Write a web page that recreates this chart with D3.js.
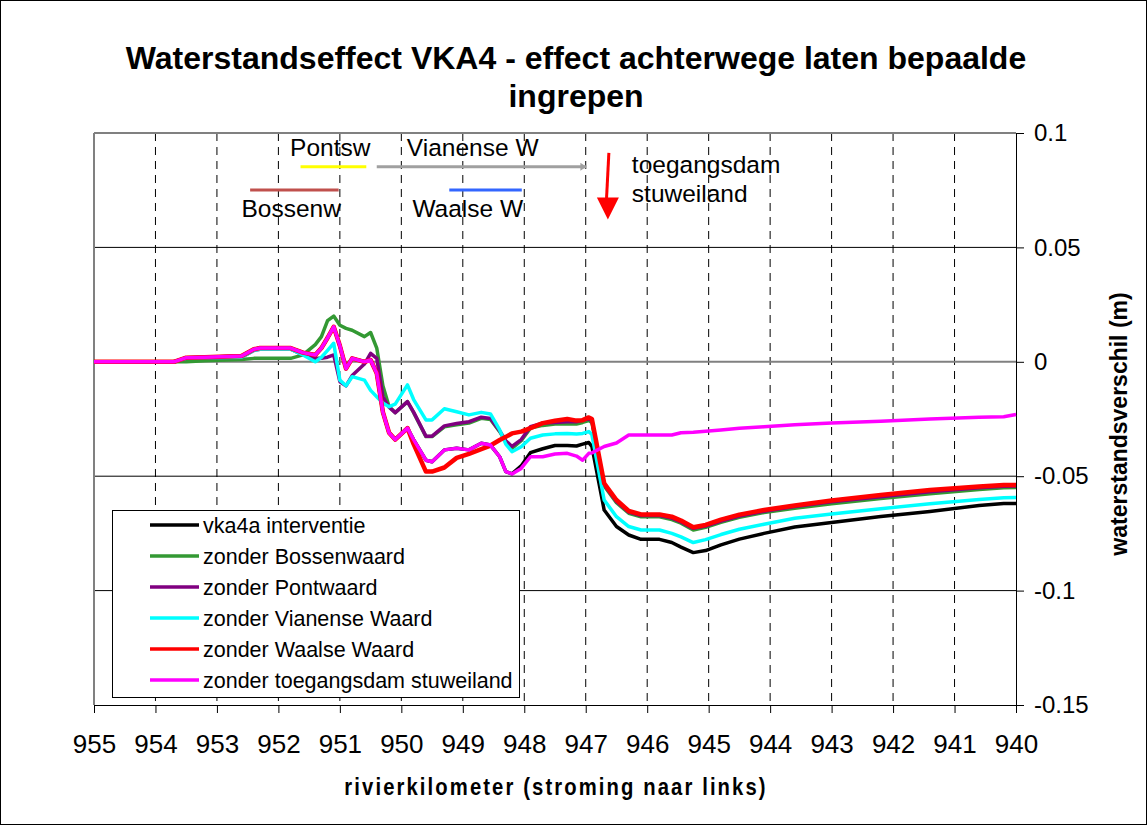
<!DOCTYPE html>
<html>
<head>
<meta charset="utf-8">
<script src="https://cdn.jsdelivr.net/npm/d3@7"></script>
<style>
  body { margin: 0; background: white; }
  svg { font-family: "Liberation Sans", Arial, sans-serif; }
</style>
</head>
<body>
<div id="chart"></div>
<script>
var km = [955, 953.7, 953.5, 953.2, 952.6, 952.4, 952.3, 951.8, 951.6, 951.4,
          951.3, 951.2, 951.1, 951.0, 950.9, 950.8, 950.6, 950.5, 950.4, 950.3,
          950.2, 950.1, 949.9, 949.8, 949.6, 949.5, 949.3, 949.1, 948.9, 948.7,
          948.55, 948.4, 948.3, 948.2, 948.05, 947.9, 947.7, 947.5, 947.3, 947.15,
          947.05, 946.95, 946.9, 946.7, 946.5, 946.3, 946.1, 945.8, 945.6, 945.45,
          945.25, 945.05, 944.8, 944.5, 944.1, 943.6, 943, 942.2, 941.4, 940.6,
          940.2, 940]

// water level difference (m), one list per run
var vka4a = [0, 0, 0.0018, 0.002, 0.0025, 0.0055, 0.006, 0.006, 0.004, 0.003,
             0.006, 0.0105, 0.0153, 0.007, -0.003, 0.0015, 0, 0.0008, -0.005, -0.022,
             -0.031, -0.034, -0.029, -0.034, -0.043, -0.0437, -0.0385, -0.0378, -0.0385, -0.0356,
             -0.0364, -0.0415, -0.048, -0.049, -0.0455, -0.0397, -0.038, -0.0366, -0.0366, -0.0368,
             -0.036, -0.0353, -0.037, -0.0648, -0.072, -0.0757, -0.0776, -0.0776, -0.079, -0.081,
             -0.0834, -0.0825, -0.080, -0.0775, -0.075, -0.0722, -0.0702, -0.0676, -0.0654, -0.0628,
             -0.0619, -0.0619]

var zonderBossenwaard = [0, 0, 0, 0.0005, 0.001, 0.0015, 0.0015, 0.0015, 0.003, 0.0075,
             0.011, 0.018, 0.02, 0.016, 0.0146, 0.0138, 0.011, 0.0128, 0.006, -0.0105,
             -0.0195, -0.0222, -0.0174, -0.0222, -0.0327, -0.0327, -0.0284, -0.0275, -0.0268, -0.0247,
             -0.0252, -0.0305, -0.035, -0.0378, -0.0345, -0.029, -0.0278, -0.0272, -0.0271, -0.0272,
             -0.0265, -0.0257, -0.0266, -0.0543, -0.0616, -0.0662, -0.0677, -0.0677, -0.069, -0.0705,
             -0.0735, -0.0723, -0.0702, -0.068, -0.0659, -0.064, -0.062, -0.0597, -0.0577, -0.0558,
             -0.055, -0.0549]

var zonderPontwaard = [0, 0, 0.0015, 0.0018, 0.002, 0.005, 0.0055, 0.0055, 0.003, 0.0015,
             0.0015, 0.002, 0.003, -0.0087, -0.0105, -0.006, -0.001, 0.0037, 0.0015, -0.0153,
             -0.0198, -0.0222, -0.0174, -0.022, -0.0325, -0.0325, -0.028, -0.027, -0.0262, -0.0242,
             -0.0248, -0.0302, -0.0345, -0.037, -0.034, -0.0284, -0.0268, -0.0265, -0.0262, -0.0262,
             -0.0255, -0.025, -0.0257, -0.0537, -0.061, -0.0657, -0.0672, -0.0672, -0.0683, -0.07,
             -0.0728, -0.0718, -0.0696, -0.0674, -0.0653, -0.0633, -0.0612, -0.059, -0.0568, -0.0551,
             -0.0544, -0.0543]

var zonderVianenseWaard = [0, 0, 0.0015, 0.0018, 0.002, 0.005, 0.0055, 0.0055, 0.003, 0,
             0.002, 0.005, 0.0081, -0.008, -0.0105, -0.0065, -0.008, -0.0125, -0.0153, -0.018,
             -0.0196, -0.0185, -0.0101, -0.0165, -0.0254, -0.0254, -0.0205, -0.0218, -0.0232, -0.0221,
             -0.0228, -0.0298, -0.036, -0.0393, -0.0371, -0.0334, -0.032, -0.0315, -0.0313, -0.0316,
             -0.0313, -0.0305, -0.0318, -0.0604, -0.0677, -0.072, -0.0735, -0.0735, -0.075, -0.0765,
             -0.079, -0.0777, -0.0755, -0.0732, -0.071, -0.0684, -0.0665, -0.0642, -0.062, -0.0602,
             -0.0594, -0.0593]

var zonderWaalseWaard = [0, 0, 0.0018, 0.002, 0.0025, 0.0055, 0.006, 0.006, 0.004, 0.003,
             0.006, 0.0105, 0.0153, 0.007, -0.003, 0.0015, 0, 0.0008, -0.005, -0.022,
             -0.031, -0.034, -0.029, -0.036, -0.048, -0.048, -0.0462, -0.042, -0.0402, -0.0382,
             -0.0366, -0.0342, -0.0328, -0.0313, -0.0305, -0.029, -0.0268, -0.0258, -0.025, -0.0257,
             -0.0255, -0.0243, -0.025, -0.0531, -0.0604, -0.0652, -0.0667, -0.0667, -0.0677, -0.0694,
             -0.0723, -0.0713, -0.069, -0.0668, -0.0648, -0.0628, -0.0606, -0.0582, -0.056, -0.0545,
             -0.0538, -0.0538]

var zonderToegangsdam = [0, 0, 0.0018, 0.002, 0.0025, 0.0055, 0.006, 0.006, 0.004, 0.003,
             0.006, 0.0105, 0.0153, 0.007, -0.003, 0.0015, 0, 0.0008, -0.005, -0.022,
             -0.031, -0.034, -0.029, -0.034, -0.043, -0.0437, -0.0385, -0.0378, -0.0385, -0.0356,
             -0.0364, -0.0415, -0.048, -0.049, -0.0466, -0.0415, -0.0415, -0.0403, -0.040, -0.0412,
             -0.043, -0.040, -0.0398, -0.037, -0.0355, -0.032, -0.032, -0.032, -0.032, -0.031,
             -0.0308, -0.0304, -0.0298, -0.029, -0.0284, -0.0275, -0.0268, -0.026, -0.025, -0.0242,
             -0.024, -0.023]

var seriesNames = ["vka4a interventie", "zonder Bossenwaard", "zonder Pontwaard",
                   "zonder Vianense Waard", "zonder Waalse Waard", "zonder toegangsdam stuweiland"]
var seriesValues = [vka4a, zonderBossenwaard, zonderPontwaard, zonderVianenseWaard,
                    zonderWaalseWaard, zonderToegangsdam]
var seriesColors = ["#000000", "#339933", "#800080", "#00ffff", "#ff0000", "#ff00ff"]

// axis ticks
var xTicks = [955, 954, 953, 952, 951, 950, 949, 948, 947, 946, 945, 944, 943, 942, 941, 940]
var yTicks = [0.1, 0.05, 0, -0.05, -0.1, -0.15]

// where the measures lie (km from - to) for the labels above the lines
var measureNames = ["Pontsw", "Vianense W", "Bossenw", "Waalse W"]
var measureFrom = [951.64, 950.40, 952.46, 949.22]
var measureTo = [950.57, 946.99, 951.02, 948.04]
var measureLabelKm = [951.81, 949.91, 952.60, 949.82]
var measureColors = ["#ffff00", "#a0a0a0", "#c0504d", "#3366ff"]
var damKm = 946.64

// set the dimensions and margins of the graph
var margin = {top: 133, right: 131, bottom: 120, left: 94},
    width = 922,
    height = 572

var svg = d3.select("#chart")
  .append("svg")
    .attr("width", 1147)
    .attr("height", 825)

// white background with thin frame
svg.append("rect")
  .attr("x", 0.5).attr("y", 0.5)
  .attr("width", 1146).attr("height", 824)
  .style("fill", "white")
  .style("stroke", "black")

// title
svg.append("text")
  .attr("x", 576).attr("y", 69)
  .attr("text-anchor", "middle")
  .style("font-size", "32px").style("font-weight", "bold")
  .text("Waterstandseffect VKA4 - effect achterwege laten bepaalde")
svg.append("text")
  .attr("x", 576).attr("y", 107)
  .attr("text-anchor", "middle")
  .style("font-size", "32px").style("font-weight", "bold")
  .text("ingrepen")

var g = svg.append("g")
  .attr("transform", "translate(" + margin.left + "," + margin.top + ")")

var x = d3.scaleLinear().domain([955, 940]).range([0, width])
var y = d3.scaleLinear().domain([-0.15, 0.1]).range([height, 0])

// dashed vertical gridlines
g.selectAll(".vgrid")
  .data(xTicks.slice(1, -1))
  .enter()
  .append("line")
    .attr("x1", function(d) { return x(d) }).attr("x2", function(d) { return x(d) })
    .attr("y1", 0).attr("y2", height)
    .style("stroke", "black")
    .style("stroke-dasharray", "8,6")

// horizontal gridlines
g.selectAll(".hgrid")
  .data(yTicks.slice(1, -1))
  .enter()
  .append("line")
    .attr("x1", 0).attr("x2", width)
    .attr("y1", function(d) { return y(d) }).attr("y2", function(d) { return y(d) })
    .style("stroke", function(d) { return d === 0 ? "#808080" : "black" })
    .style("stroke-width", function(d) { return d === 0 ? 2 : 1 })

// grey plot border on top and left
g.append("line").attr("x1", 0).attr("x2", width).attr("y1", 0).attr("y2", 0)
  .style("stroke", "#808080").style("stroke-width", 2)
g.append("line").attr("x1", 0).attr("x2", 0).attr("y1", 0).attr("y2", height)
  .style("stroke", "#808080").style("stroke-width", 2)

// X axis
var xAxis = g.append("g")
  .attr("transform", "translate(0," + height + ")")
  .call(d3.axisBottom(x)
    .tickValues(xTicks)
    .tickSize(8)
    .tickSizeOuter(0)
    .tickPadding(22)
    .tickFormat(d3.format("d")))
xAxis.selectAll("text").style("font-size", "26px").style("fill", "black")
  .style("font-family", "'Liberation Sans Narrow', 'Arial Narrow', 'Liberation Sans', sans-serif")
xAxis.selectAll("line, path").style("stroke", "black")

// Y axis on the right
var yAxis = g.append("g")
  .attr("transform", "translate(" + width + ",0)")
  .call(d3.axisRight(y)
    .tickValues(yTicks)
    .tickSize(8)
    .tickSizeOuter(0)
    .tickPadding(10)
    .tickFormat(function(d) { return String(+d.toFixed(2)) }))
yAxis.selectAll("text").style("font-size", "24px").style("fill", "black")
yAxis.selectAll("line, path").style("stroke", "black")

// axis titles (x title is squeezed a bit, like the original)
svg.append("text")
  .attr("transform", "translate(556,795) scale(0.88,1)")
  .attr("text-anchor", "middle")
  .style("font-size", "23px").style("font-weight", "bold")
  .style("letter-spacing", "2.4px")
  .text("rivierkilometer (stroming naar links)")
svg.append("text")
  .attr("transform", "translate(1127,424) rotate(-90)")
  .attr("text-anchor", "middle")
  .style("font-size", "23px").style("font-weight", "bold")
  .text("waterstandsverschil (m)")

// the lines
var line = d3.line()
  .x(function(d) { return x(d.km) })
  .y(function(d) { return y(d.v) })

var series = seriesNames.map(function(name, i) {
  return {name: name, color: seriesColors[i],
          values: km.map(function(k, j) { return {km: k, v: seriesValues[i][j]} })}
})

g.selectAll(".serie")
  .data(series)
  .enter()
  .append("path")
    .attr("d", function(d) { return line(d.values) })
    .style("fill", "none")
    .style("stroke", function(d) { return d.color })
    .style("stroke-width", function(d) { return d.color === "#ff0000" ? 4.5 : 3.5 })
    .style("stroke-linejoin", "round")

// measure annotations at the top
var measures = measureNames.map(function(name, i) {
  return {name: name, from: measureFrom[i], to: measureTo[i], at: measureLabelKm[i],
          color: measureColors[i], row: i < 2 ? 0 : 1}
})
var barY = [0.0853, 0.0751]
var labelY = [0.0900, 0.0633]

g.selectAll(".measure")
  .data(measures)
  .enter()
  .append("line")
    .attr("x1", function(d) { return x(d.from) }).attr("x2", function(d) { return x(d.to) })
    .attr("y1", function(d) { return y(barY[d.row]) }).attr("y2", function(d) { return y(barY[d.row]) })
    .style("stroke", function(d) { return d.color })
    .style("stroke-width", 3)

// little arrow tip on the grey line
var gx = x(measureTo[1]), gy = y(barY[0])
g.append("path")
  .attr("d", "M" + (gx - 6) + "," + (gy - 4) + "L" + gx + "," + gy + "L" + (gx - 6) + "," + (gy + 4) + "Z")
  .style("fill", "#a0a0a0")

g.selectAll(".measureLabel")
  .data(measures)
  .enter()
  .append("text")
    .attr("x", function(d) { return x(d.at) })
    .attr("y", function(d) { return y(labelY[d.row]) })
    .style("font-size", "24.5px")
    .text(function(d) { return d.name })

// red arrow for the access dam
var ax = x(damKm)
g.append("line")
  .attr("x1", ax + 1).attr("y1", y(0.0913))
  .attr("x2", ax - 1.5).attr("y2", y(0.0700))
  .style("stroke", "red").style("stroke-width", 3)
g.append("path")
  .attr("d", "M" + (ax - 11) + "," + y(0.0718) + "L" + (ax + 11) + "," + y(0.0718) + "L" + ax + "," + y(0.0622) + "Z")
  .style("fill", "red")

g.append("text")
  .attr("x", x(946.25)).attr("y", y(0.0825))
  .style("font-size", "24.5px")
  .text("toegangsdam")
g.append("text")
  .attr("x", x(946.25)).attr("y", y(0.0699))
  .style("font-size", "24.5px")
  .text("stuweiland")

// legend
var legend = svg.append("g")
legend.append("rect")
  .attr("x", 112.5).attr("y", 510.5)
  .attr("width", 407).attr("height", 187)
  .style("fill", "white").style("stroke", "black")

legend.selectAll("legline")
  .data(series)
  .enter()
  .append("line")
    .attr("x1", 150).attr("x2", 199)
    .attr("y1", function(d, i) { return 525 + i * 31 })
    .attr("y2", function(d, i) { return 525 + i * 31 })
    .style("stroke", function(d) { return d.color })
    .style("stroke-width", 3.5)

legend.selectAll("mylabels")
  .data(series)
  .enter()
  .append("text")
    .attr("x", 203)
    .attr("y", function(d, i) { return 525 + i * 31 })
    .attr("dy", "0.36em")
    .style("font-size", "21.5px")
    .text(function(d) { return d.name })
</script>
</body>
</html>
